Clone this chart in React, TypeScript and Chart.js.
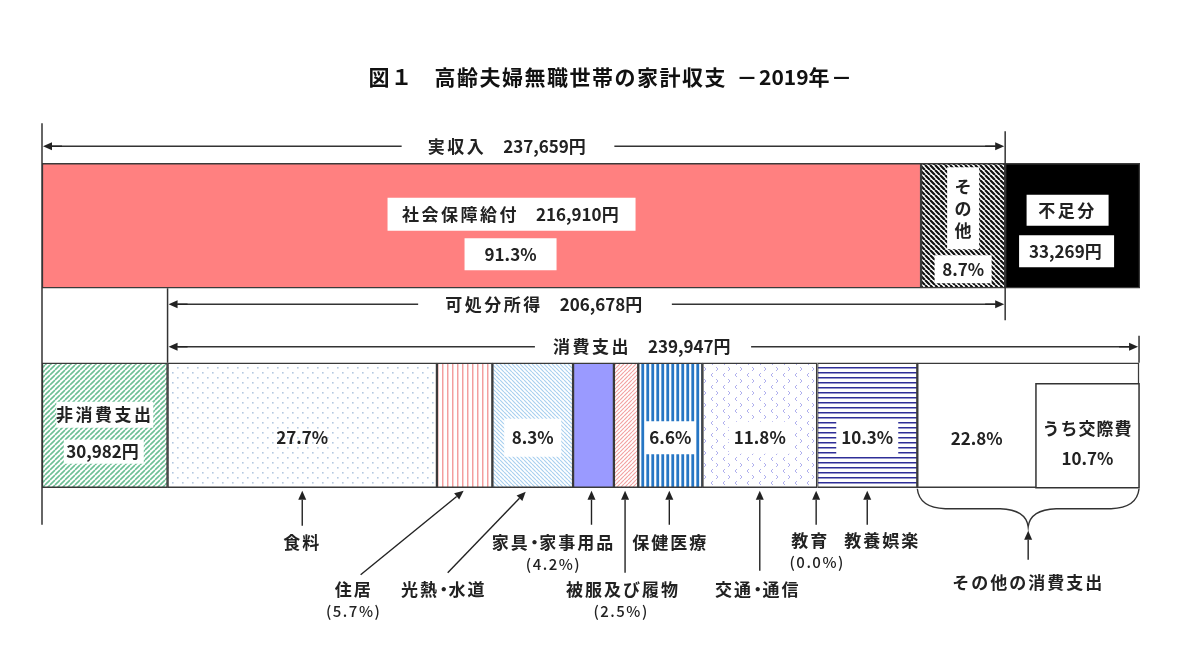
import { useEffect, useRef } from "react";
import { Chart, registerables } from "chart.js";

Chart.register(...registerables);

const FONT = '"Noto Sans CJK JP", "Noto Sans", sans-serif';
const INK = "#222";

const titleText = "図１　高齢夫婦無職世帯の家計収支  －2019年－";

const barCategories = ["収入", "支出"];

// income side (yen / month)
const incomeNames = ["社会保障給付", "その他", "不足分"];
const incomeYen = [216910, 20749, 33269];
const incomeShares = [91.3, 8.7];

const actualIncomeYen = 237659;
const disposableIncomeYen = 206678;
const consumptionYen = 239947;
const nonConsumptionYen = 30982;

// consumption breakdown (% of consumption expenditure)
const itemNames = [
  "食料",
  "住居",
  "光熱・水道",
  "家具・家事用品",
  "被服及び履物",
  "保健医療",
  "交通・通信",
  "教育",
  "教養娯楽",
  "その他の消費支出",
];
const itemShares = [27.7, 5.7, 8.3, 4.2, 2.5, 6.6, 11.8, 0.0, 10.3, 22.8];
const socialExpenseShare = 10.7; // うち交際費

const fmt = (v: number) => v.toLocaleString("en-US");
const pct = (v: number) => v.toFixed(1) + "%";

type G = CanvasRenderingContext2D;

function makePattern(main: G, w: number, h: number, draw: (g: G) => void, bg = "#fff") {
  const c = document.createElement("canvas");
  c.width = w;
  c.height = h;
  const g = c.getContext("2d") as G;
  g.fillStyle = bg;
  g.fillRect(0, 0, w, h);
  draw(g);
  return main.createPattern(c, "repeat") as CanvasPattern;
}

function diagonal(main: G, s: number, color: string, lw: number, dir: "/" | "\\") {
  return makePattern(main, s, s, (g) => {
    g.strokeStyle = color;
    g.lineWidth = lw;
    g.beginPath();
    for (let k = -1; k <= 1; k++) {
      if (dir === "\\") {
        g.moveTo(k * s, 0);
        g.lineTo(k * s + s, s);
      } else {
        g.moveTo(k * s, s);
        g.lineTo(k * s + s, 0);
      }
    }
    g.stroke();
  });
}

function verticalStripes(main: G, s: number, color: string, lw: number) {
  return makePattern(main, s, 2, (g) => {
    g.fillStyle = color;
    g.fillRect((s - lw) / 2, 0, lw, 2);
  });
}

function horizontalStripes(main: G, s: number, color: string, lw: number) {
  return makePattern(main, 2, s, (g) => {
    g.fillStyle = color;
    g.fillRect(0, (s - lw) / 2, 2, lw);
  });
}

function dots(main: G, color: string) {
  return makePattern(main, 10, 10, (g) => {
    g.fillStyle = color;
    g.fillRect(2, 2, 1.6, 1.6);
    g.fillRect(7, 7, 1.6, 1.6);
  });
}

function chevrons(main: G, color: string) {
  return makePattern(main, 12, 12, (g) => {
    g.strokeStyle = color;
    g.lineWidth = 1;
    g.beginPath();
    g.moveTo(5, 1);
    g.lineTo(3, 3);
    g.lineTo(5, 5);
    g.moveTo(8, 7);
    g.lineTo(10, 9);
    g.lineTo(8, 11);
    g.stroke();
  });
}

const isWide = (ch: string) => /[^\x00-\xff]/.test(ch) && ch !== "　" && ch !== "・";

// advance of one glyph: the middle dot is set half-width, wide glyphs get extra tracking
function advance(ctx: G, ch: string, sp: number, spAll: number) {
  const w = ctx.measureText(ch).width;
  if (ch === "・") return w * 0.55;
  return w + (isWide(ch) ? sp : spAll);
}

function spacedWidth(ctx: G, s: string, sp: number, spAll = 0) {
  let w = 0;
  for (const ch of s) w += advance(ctx, ch, sp, spAll);
  return w;
}

function drawText(ctx: G, s: string, cx: number, cy: number, font: string, sp = 0, color = INK, spAll = 0) {
  ctx.save();
  ctx.font = font;
  ctx.fillStyle = color;
  ctx.textAlign = "left";
  ctx.textBaseline = "middle";
  let x = cx - spacedWidth(ctx, s, sp, spAll) / 2;
  for (const ch of s) {
    const w = ctx.measureText(ch).width;
    ctx.fillText(ch, ch === "・" ? x - w * 0.225 : x, cy);
    x += advance(ctx, ch, sp, spAll);
  }
  ctx.restore();
}

function whiteBox(ctx: G, cx: number, cy: number, w: number, h: number) {
  ctx.save();
  ctx.fillStyle = "#fff";
  ctx.fillRect(cx - w / 2, cy - h / 2, w, h);
  ctx.restore();
}

function arrow(ctx: G, x1: number, y1: number, x2: number, y2: number) {
  const a = Math.atan2(y2 - y1, x2 - x1);
  const len = 9;
  const hw = 4;
  const bx = x2 - len * Math.cos(a);
  const by = y2 - len * Math.sin(a);
  ctx.save();
  ctx.strokeStyle = "#222";
  ctx.fillStyle = "#222";
  ctx.lineWidth = 1.4;
  ctx.beginPath();
  ctx.moveTo(x1, y1);
  ctx.lineTo(bx, by);
  ctx.stroke();
  ctx.beginPath();
  ctx.moveTo(x2, y2);
  ctx.lineTo(bx - hw * Math.sin(a), by + hw * Math.cos(a));
  ctx.lineTo(bx + hw * Math.sin(a), by - hw * Math.cos(a));
  ctx.closePath();
  ctx.fill();
  ctx.restore();
}

function line(ctx: G, x1: number, y1: number, x2: number, y2: number, lw = 1.4, color = "#333") {
  ctx.save();
  ctx.strokeStyle = color;
  ctx.lineWidth = lw;
  ctx.beginPath();
  ctx.moveTo(x1, y1);
  ctx.lineTo(x2, y2);
  ctx.stroke();
  ctx.restore();
}

const LABEL = `bold 17px ${FONT}`;
const SMALL = `500 15px ${FONT}`;

function dimension(ctx: G, xa: number, xb: number, y: number, text: string, textCx: number, gapPad: number) {
  line(ctx, xa + 8, y, xb - 8, y);
  arrow(ctx, xa + 20, y, xa + 1, y);
  arrow(ctx, xb - 20, y, xb - 1, y);
  ctx.save();
  ctx.font = LABEL;
  const w = spacedWidth(ctx, text, 2.5);
  ctx.restore();
  whiteBox(ctx, textCx, y, w + gapPad * 2, 12);
  drawText(ctx, text, textCx, y, LABEL, 2.5);
}

function bounds(el: any) {
  const p = el.getProps(["x", "y", "base", "height"], true);
  return {
    left: Math.min(p.x, p.base),
    right: Math.max(p.x, p.base),
    top: p.y - p.height / 2,
    bottom: p.y + p.height / 2,
    cx: (p.x + p.base) / 2,
  };
}

const annotations = {
  id: "householdAnnotations",
  afterDatasetsDraw(chart: any) {
    const ctx: G = chart.ctx;
    const px = (v: number) => chart.scales.x.getPixelForValue(v);
    const inc = incomeNames.map((_, i) => bounds(chart.getDatasetMeta(i).data[0]));
    const nonCons = bounds(chart.getDatasetMeta(3).data[1]);
    const items = itemNames.map((_, i) => bounds(chart.getDatasetMeta(4 + i).data[1]));
    const T = inc[0].top;
    const TB = inc[0].bottom;
    const BT = nonCons.top;
    const B = nonCons.bottom;

    // title
    drawText(ctx, titleText, 611, T - 86, `bold 21px ${FONT}`, 1.5, "#111");

    // reference verticals
    const x0 = px(0);
    const xInc = px(actualIncomeYen);
    const xCons0 = px(nonConsumptionYen);
    const xEnd = items[items.length - 1].right;
    line(ctx, x0, T - 40, x0, B + 37, 1.5);
    line(ctx, xInc, T - 32, xInc, TB + 32, 1.5);
    line(ctx, xCons0, TB, xCons0, BT, 1.5);
    line(ctx, xEnd, BT - 27, xEnd, BT, 1.5);

    // dimension lines
    dimension(ctx, x0, xInc, T - 17, `実収入　${fmt(actualIncomeYen)}円`, 508, 26);
    dimension(ctx, xCons0, px(nonConsumptionYen + disposableIncomeYen), TB + 16, `可処分所得　${fmt(disposableIncomeYen)}円`, 545, 27);
    dimension(ctx, xCons0, xEnd, BT - 16, `消費支出　${fmt(consumptionYen)}円`, 643, 18);

    // income bar labels
    const s0 = inc[0];
    whiteBox(ctx, s0.cx + 30, T + 51, 248, 33);
    drawText(ctx, `${incomeNames[0]}　${fmt(incomeYen[0])}円`, s0.cx + 30, T + 51, LABEL, 2.5);
    whiteBox(ctx, s0.cx + 29, T + 91, 92, 32);
    drawText(ctx, pct(incomeShares[0]), s0.cx + 29, T + 91, LABEL);

    const s1 = inc[1];
    whiteBox(ctx, s1.cx, T + 45, 32, 82);
    Array.from(incomeNames[1]).forEach((ch, k) => drawText(ctx, ch, s1.cx, T + 23 + k * 22, LABEL));
    whiteBox(ctx, s1.cx, T + 106, 57, 28);
    drawText(ctx, pct(incomeShares[1]), s1.cx, T + 106, LABEL);

    const s2 = inc[2];
    whiteBox(ctx, s2.cx - 5, T + 47, 82, 31);
    drawText(ctx, incomeNames[2], s2.cx - 5, T + 47, LABEL, 2.5);
    whiteBox(ctx, s2.cx - 6, T + 88, 95, 32);
    drawText(ctx, `${fmt(incomeYen[2])}円`, s2.cx - 6, T + 88, LABEL, 2.5);

    // expenditure bar labels
    whiteBox(ctx, nonCons.cx, BT + 52, 97, 26);
    drawText(ctx, "非消費支出", nonCons.cx, BT + 52, LABEL, 2.5);
    whiteBox(ctx, nonCons.cx - 1, BT + 89, 80, 24);
    drawText(ctx, `${fmt(nonConsumptionYen)}円`, nonCons.cx - 1, BT + 89, LABEL, 2.5);

    const pctY = BT + 75;
    const boxed: Record<number, [number, number]> = { 2: [57, 38], 5: [50, 33], 6: [62, 32], 8: [62, 33] };
    [0, 2, 5, 6, 8].forEach((i) => {
      const b = items[i];
      if (boxed[i]) whiteBox(ctx, b.cx, pctY, boxed[i][0], boxed[i][1]);
      drawText(ctx, pct(itemShares[i]), b.cx, pctY, LABEL);
    });

    // その他の消費支出 and its うち交際費 sub-box
    const other = items[9];
    const subLeft = px(nonConsumptionYen + (consumptionYen * (100 - socialExpenseShare)) / 100);
    const subTop = BT + 21;
    ctx.save();
    ctx.strokeStyle = "#333";
    ctx.lineWidth = 1.5;
    ctx.fillStyle = "#fff";
    ctx.fillRect(subLeft, subTop, xEnd - subLeft, B - subTop);
    ctx.strokeRect(subLeft, subTop, xEnd - subLeft, B - subTop);
    ctx.restore();
    const subCx = (subLeft + xEnd) / 2;
    drawText(ctx, "うち交際費", subCx, BT + 66, LABEL, 1);
    drawText(ctx, pct(socialExpenseShare), subCx, BT + 96, LABEL);
    drawText(ctx, pct(itemShares[9]), (other.left + subLeft) / 2, pctY + 1, LABEL);

    // call-outs below the expenditure bar
    const c = items.map((b) => b.cx);
    const callouts: { tip: [number, number]; tail: [number, number]; lines: [string, number, number, string][] }[] = [
      { tip: [c[0], B + 3], tail: [c[0], B + 38], lines: [[itemNames[0], c[0], B + 55, LABEL]] },
      {
        tip: [c[1] - 1, B + 3],
        tail: [c[1] - 104, B + 87],
        lines: [
          [itemNames[1], c[1] - 111, B + 102, LABEL],
          [`(${pct(itemShares[1])})`, c[1] - 111, B + 124, SMALL],
        ],
      },
      { tip: [c[2] - 7, B + 4], tail: [c[2] - 85, B + 85], lines: [[itemNames[2], c[2] - 89, B + 102, LABEL]] },
      {
        tip: [c[3] - 2, B + 3],
        tail: [c[3] - 2, B + 37],
        lines: [
          [itemNames[3], c[3] - 40, B + 55, LABEL],
          [`(${pct(itemShares[3])})`, c[3] - 40, B + 77, SMALL],
        ],
      },
      {
        tip: [c[4] - 1, B + 3],
        tail: [c[4] - 1, B + 85],
        lines: [
          [itemNames[4], c[4] - 3, B + 102, LABEL],
          [`(${pct(itemShares[4])})`, c[4] - 5, B + 124, SMALL],
        ],
      },
      { tip: [c[5] - 1, B + 3], tail: [c[5] - 1, B + 37], lines: [[itemNames[5], c[5], B + 55, LABEL]] },
      { tip: [c[6], B + 3], tail: [c[6], B + 83], lines: [[itemNames[6], c[6] - 2, B + 102, LABEL]] },
      {
        tip: [items[7].left - 1, B + 3],
        tail: [items[7].left - 1, B + 37],
        lines: [
          [itemNames[7], items[7].left - 7, B + 53, LABEL],
          [`(${pct(itemShares[7])})`, items[7].left, B + 75, SMALL],
        ],
      },
      { tip: [c[8], B + 3], tail: [c[8], B + 37], lines: [[itemNames[8], c[8] + 15, B + 53, LABEL]] },
    ];
    callouts.forEach((co) => {
      arrow(ctx, co.tail[0], co.tail[1], co.tip[0], co.tip[1]);
      co.lines.forEach(([t, x, y, f]) =>
        f === LABEL ? drawText(ctx, t, x, y, f, 2) : drawText(ctx, t, x, y, f, 0, INK, 1.5)
      );
    });

    // brace under その他の消費支出
    const bx0 = other.left;
    const bx1 = xEnd;
    const mid = (bx0 + bx1) / 2;
    const by = B + 1;
    ctx.save();
    ctx.strokeStyle = "#333";
    ctx.lineWidth = 1.4;
    ctx.beginPath();
    ctx.moveTo(bx0, by);
    ctx.quadraticCurveTo(bx0 + 2, by + 19, bx0 + 28, by + 20);
    ctx.lineTo(mid - 28, by + 20);
    ctx.quadraticCurveTo(mid - 2, by + 21, mid, by + 38);
    ctx.quadraticCurveTo(mid + 2, by + 21, mid + 28, by + 20);
    ctx.lineTo(bx1 - 28, by + 20);
    ctx.quadraticCurveTo(bx1 - 2, by + 19, bx1, by);
    ctx.stroke();
    ctx.restore();
    arrow(ctx, mid, B + 72, mid, B + 43);
    drawText(ctx, itemNames[9], mid, B + 95, LABEL, 2);
  },
};

export default function App() {
  const ref = useRef<HTMLCanvasElement | null>(null);

  useEffect(() => {
    const canvas = ref.current;
    if (!canvas) return;
    const g = canvas.getContext("2d") as G;

    const border = "#3a3a3a";
    const incomeFills: (string | CanvasPattern)[] = [
      "#ff8080",
      diagonal(g, 5, "#111", 2.2, "\\"),
      "#000",
    ];
    const nonConsFill = diagonal(g, 5, "#6cbf95", 1.6, "/");
    const itemFills: (string | CanvasPattern)[] = [
      dots(g, "#b4c8e0"),
      verticalStripes(g, 5.5, "#f39a9a", 1.4),
      diagonal(g, 4, "#a9d0ef", 1.2, "\\"),
      "#9a9aff",
      diagonal(g, 4, "#f2a2a2", 1.2, "/"),
      verticalStripes(g, 5.5, "#2676c4", 2.8),
      chevrons(g, "#b0b0ee"),
      "#ffffff",
      horizontalStripes(g, 5.5, "#2e2e98", 1.5),
      "#ffffff",
    ];

    const datasets: any[] = [];
    incomeNames.forEach((name, i) => {
      datasets.push({
        label: name,
        data: [incomeYen[i], null],
        backgroundColor: incomeFills[i],
        borderColor: border,
        borderWidth: 1.5,
        borderSkipped: false,
      });
    });
    datasets.push({
      label: "非消費支出",
      data: [null, nonConsumptionYen],
      backgroundColor: nonConsFill,
      borderColor: border,
      borderWidth: 1.5,
      borderSkipped: false,
    });
    itemNames.forEach((name, i) => {
      datasets.push({
        label: name,
        data: [null, (consumptionYen * itemShares[i]) / 100],
        backgroundColor: itemFills[i],
        borderColor: border,
        borderWidth: itemShares[i] > 0 ? 1.5 : 0,
        borderSkipped: false,
      });
    });

    const chart = new Chart(canvas, {
      type: "bar",
      data: { labels: barCategories, datasets },
      options: {
        animation: false,
        responsive: false,
        devicePixelRatio: 1,
        indexAxis: "y",
        layout: { padding: { left: 42, right: 60, top: 126, bottom: 123 } },
        datasets: { bar: { barThickness: 125 } },
        scales: {
          x: {
            type: "linear",
            stacked: true,
            display: false,
            min: 0,
            max: actualIncomeYen + incomeYen[2],
          },
          y: { stacked: true, display: false },
        },
        plugins: {
          legend: { display: false },
          tooltip: { enabled: false },
        },
      } as any,
      plugins: [annotations],
    });

    return () => chart.destroy();
  }, []);

  return (
    <div style={{ position: "fixed", left: 0, top: 0, width: 1200, height: 648, background: "#fff" }}>
      <canvas ref={ref} width={1200} height={648} style={{ display: "block", width: 1200, height: 648 }} />
    </div>
  );
}
